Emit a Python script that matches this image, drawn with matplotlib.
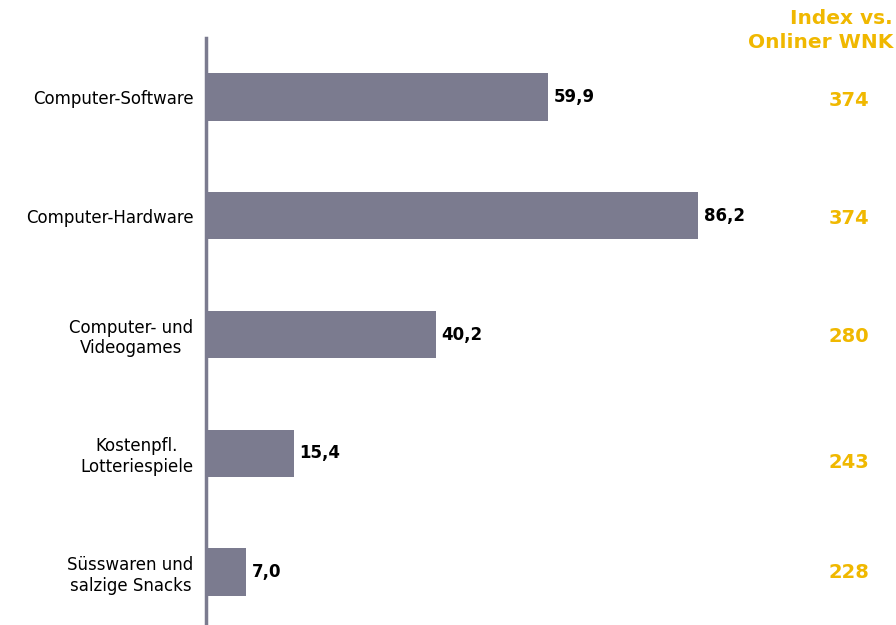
import matplotlib.pyplot as plt

categories = ["Computer-Software", "Computer-Hardware", "Computer- und\nVideogames",
              "Kostenpfl.\nLotteriespiele", "Süsswaren und\nsalzige Snacks"]
values = [59.9, 86.2, 40.2, 15.4, 7.0]
index_vals = [374, 374, 280, 243, 228]
# vertical positions (px from top) of the index figures
index_y = [100, 218, 336, 463, 573]

bar_color = "#7b7b8f"
gold = "#f0b800"

W, H = 896, 625
fig = plt.figure(figsize=(W / 100, H / 100), dpi=100)

# axes: left edge at the vertical axis line, top at 38px, down to the bottom
left, top, bottom = 206, 38, 625
ax = fig.add_axes([left / W, 1 - bottom / H, (W - left) / W, (bottom - top) / H])

pos = list(range(len(categories)))
ax.barh(pos, values, height=0.40, color=bar_color)
ax.set_xlim(0, (W - left) / 5.71)
ax.set_ylim(4.445, -0.496)

for s in ["top", "right", "bottom"]:
    ax.spines[s].set_visible(False)
ax.spines["left"].set_color(bar_color)
ax.spines["left"].set_linewidth(2.5)
ax.set_xticks([])
ax.set_yticks(pos)
ax.set_yticklabels(categories, fontsize=12, linespacing=1.2)
for lab in ax.get_yticklabels():
    lab.set_multialignment("center")
ax.tick_params(axis="y", length=0, pad=9)

for p, v in zip(pos, values):
    ax.text(v + 1.0, p, f"{v:.1f}".replace(".", ","), va="center", ha="left",
            fontsize=12, fontweight="bold", color="black")

# index column
for iv, y in zip(index_vals, index_y):
    fig.text(849 / W, 1 - y / H, str(iv), ha="center", va="center",
             fontsize=14, fontweight="bold", color=gold)

fig.text(893 / W, 1 - 18 / H, "Index vs.", ha="right", va="center",
         fontsize=14.5, fontweight="bold", color=gold)
fig.text(893 / W, 1 - 43 / H, "Onliner WNK", ha="right", va="center",
         fontsize=14.5, fontweight="bold", color=gold)

fig.savefig("out.png", dpi=100)
